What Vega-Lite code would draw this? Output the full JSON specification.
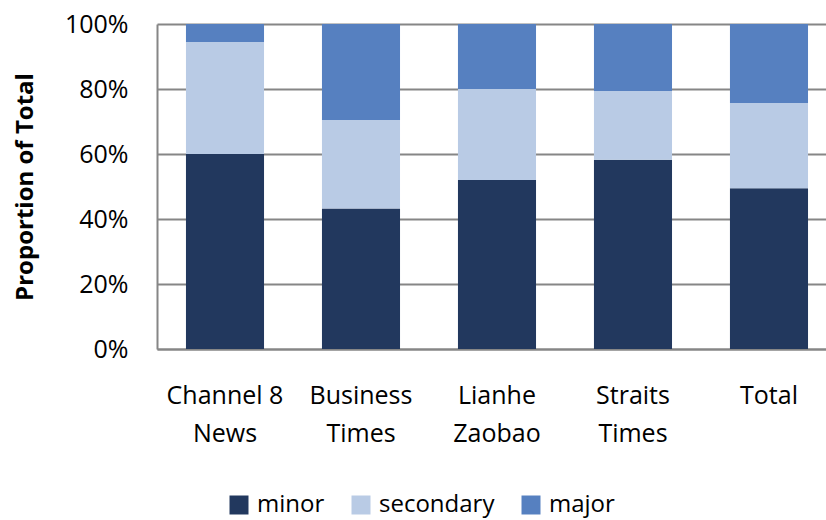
{
  "$schema": "https://vega.github.io/schema/vega-lite/v6.json",
  "width": 669,
  "height": 325,
  "autosize": {"type": "none"},
  "padding": {"left": 157, "top": 24, "right": 0, "bottom": 171},
  "background": "white",
  "config": {
    "font": "Open Sans",
    "view": {"stroke": null}
  },
  "data": {
    "values": [
      {"source": "Channel 8 News", "type": "minor", "ord": 1, "value": 60.0},
      {"source": "Channel 8 News", "type": "secondary", "ord": 2, "value": 34.5},
      {"source": "Channel 8 News", "type": "major", "ord": 3, "value": 5.5},
      {"source": "Business Times", "type": "minor", "ord": 1, "value": 43.2},
      {"source": "Business Times", "type": "secondary", "ord": 2, "value": 27.3},
      {"source": "Business Times", "type": "major", "ord": 3, "value": 29.5},
      {"source": "Lianhe Zaobao", "type": "minor", "ord": 1, "value": 52.0},
      {"source": "Lianhe Zaobao", "type": "secondary", "ord": 2, "value": 28.0},
      {"source": "Lianhe Zaobao", "type": "major", "ord": 3, "value": 20.0},
      {"source": "Straits Times", "type": "minor", "ord": 1, "value": 58.2},
      {"source": "Straits Times", "type": "secondary", "ord": 2, "value": 21.2},
      {"source": "Straits Times", "type": "major", "ord": 3, "value": 20.6},
      {"source": "Total", "type": "minor", "ord": 1, "value": 49.5},
      {"source": "Total", "type": "secondary", "ord": 2, "value": 26.2},
      {"source": "Total", "type": "major", "ord": 3, "value": 24.3}
    ]
  },
  "mark": {"type": "bar"},
  "encoding": {
    "x": {
      "field": "source",
      "type": "nominal",
      "sort": ["Channel 8 News", "Business Times", "Lianhe Zaobao", "Straits Times", "Total"],
      "scale": {"paddingInner": 0.426, "paddingOuter": 0.1726, "align": 0.617},
      "axis": {
        "title": null,
        "labelAngle": 0,
        "labelFontSize": 25,
        "labelColor": "#000000",
        "labelPadding": 34,
        "labelLineHeight": 38,
        "labelBaseline": "top",
        "ticks": false,
        "domainColor": "#868686",
        "domainWidth": 2,
        "labelExpr": "datum.value == 'Channel 8 News' ? ['Channel 8', 'News'] : split(datum.value, ' ')"
      }
    },
    "y": {
      "field": "value",
      "type": "quantitative",
      "stack": "normalize",
      "scale": {"domain": [0, 1], "nice": false},
      "axis": {
        "title": "Proportion of Total",
        "titleFontSize": 24,
        "titleFontWeight": "bold",
        "titleColor": "#000000",
        "titlePadding": 27,
        "format": ".0%",
        "values": [0, 0.2, 0.4, 0.6, 0.8, 1.0],
        "labelFontSize": 25,
        "labelColor": "#000000",
        "labelPadding": 29,
        "ticks": false,
        "grid": true,
        "gridColor": "#868686",
        "gridWidth": 2,
        "domainColor": "#868686",
        "domainWidth": 2
      }
    },
    "color": {
      "field": "type",
      "type": "nominal",
      "sort": ["minor", "secondary", "major"],
      "scale": {"domain": ["minor", "secondary", "major"], "range": ["#22385e", "#b9cbe5", "#5680c0"]},
      "legend": {
        "title": null,
        "orient": "none",
        "direction": "horizontal",
        "legendX": 70,
        "legendY": 469,
        "symbolType": "square",
        "symbolSize": 361,
        "symbolStrokeWidth": 0,
        "labelFontSize": 24,
        "labelColor": "#000000",
        "columnPadding": 24,
        "labelOffset": 6
      }
    },
    "order": {"field": "ord", "type": "quantitative"}
  }
}
